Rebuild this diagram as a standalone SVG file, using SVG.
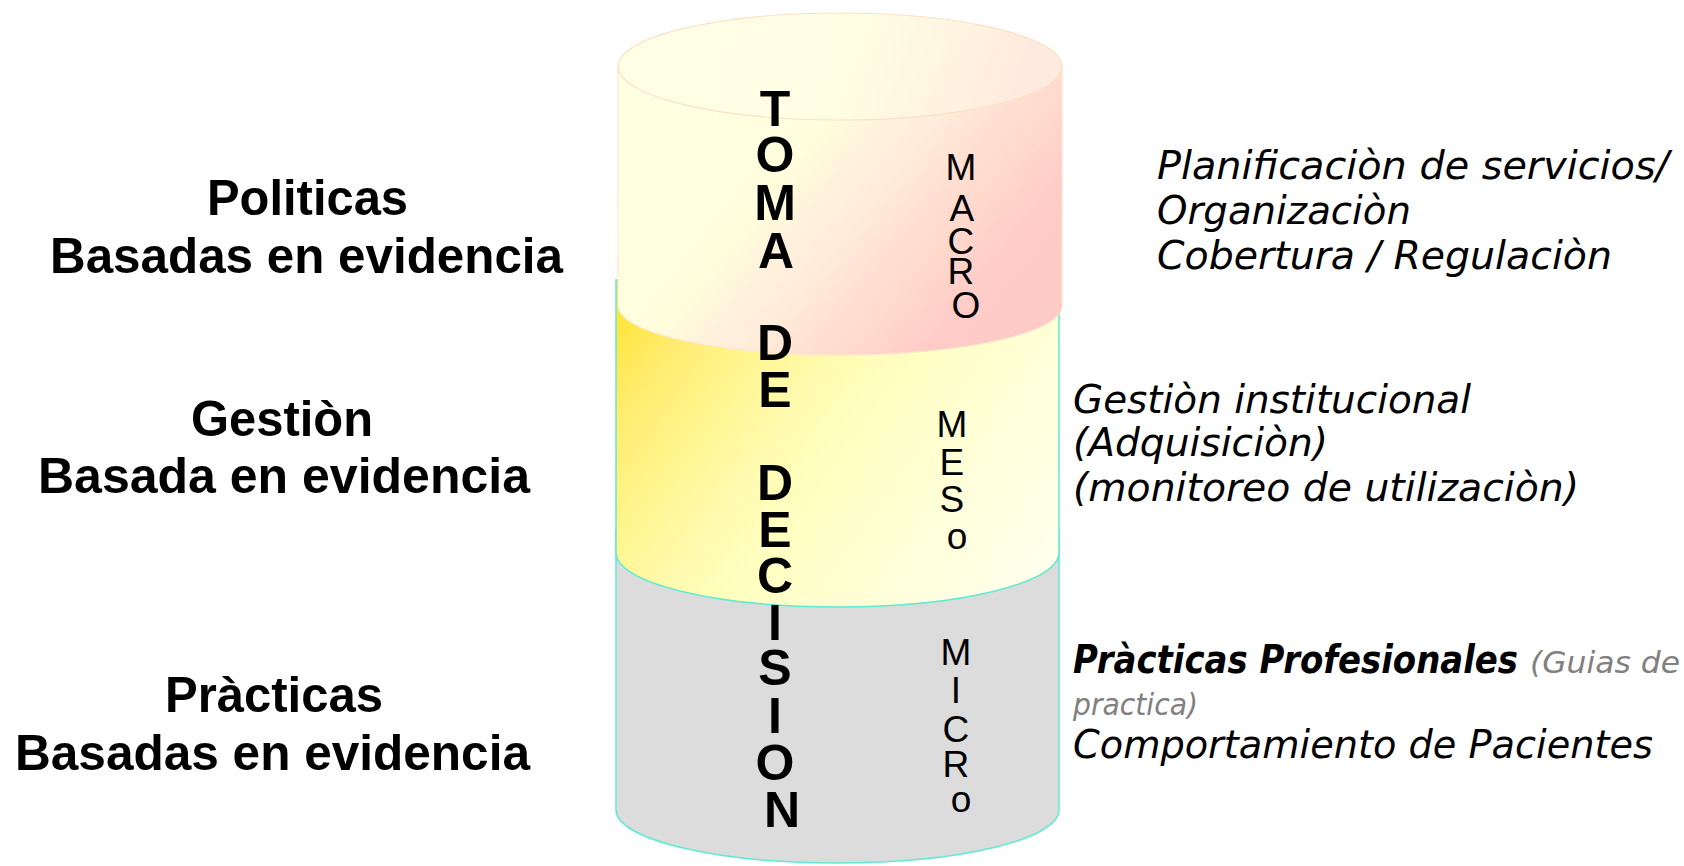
<svg xmlns="http://www.w3.org/2000/svg" width="1684" height="866" viewBox="0 0 1684 866">
  <style>
    .left { font-family: "Liberation Sans", Arial, sans-serif; font-weight: bold; font-size: 50px; fill: #000; }
    .right { font-family: "DejaVu Sans", Verdana, sans-serif; font-style: italic; font-size: 39.5px; fill: #000; }
    .rightb { font-family: "DejaVu Sans", Verdana, sans-serif; font-style: italic; font-weight: bold; font-size: 39px; fill: #000; }
    .grey { font-family: "DejaVu Sans", Verdana, sans-serif; font-style: italic; font-size: 30px; fill: #808080; }
    .vert { font-family: "Liberation Sans", Arial, sans-serif; font-weight: bold; font-size: 50px; fill: #000; text-anchor: middle; }
    .lvl { font-family: "Liberation Sans", Arial, sans-serif; font-size: 37px; fill: #000; text-anchor: middle; }
    .edge { stroke: #5FEBD2; stroke-width: 1.5; }
  </style>
  <defs>
    <linearGradient id="gTop" gradientUnits="userSpaceOnUse" x1="700" y1="90" x2="1010" y2="340">
      <stop offset="0" stop-color="#FFFFE2"/>
      <stop offset="0.3" stop-color="#FFFDDC"/>
      <stop offset="0.42" stop-color="#FFF0DC"/>
      <stop offset="0.5" stop-color="#FFEDDC"/>
      <stop offset="0.62" stop-color="#FFE0D2"/>
      <stop offset="0.75" stop-color="#FFD6CA"/>
      <stop offset="0.85" stop-color="#FFCCC8"/>
      <stop offset="1" stop-color="#FFCBC6"/>
    </linearGradient>
    <linearGradient id="gLid" gradientUnits="userSpaceOnUse" x1="700" y1="20" x2="1000" y2="130">
      <stop offset="0" stop-color="#FFFFE6"/>
      <stop offset="0.5" stop-color="#FFFDE2"/>
      <stop offset="0.8" stop-color="#FFF3E0"/>
      <stop offset="1" stop-color="#FFEADF"/>
    </linearGradient>
    <linearGradient id="gMid" gradientUnits="userSpaceOnUse" x1="620" y1="320" x2="1020" y2="600">
      <stop offset="0" stop-color="#FFE63E"/>
      <stop offset="0.12" stop-color="#FFEC70"/>
      <stop offset="0.25" stop-color="#FFF58E"/>
      <stop offset="0.4" stop-color="#FFFBB0"/>
      <stop offset="0.55" stop-color="#FFFFC4"/>
      <stop offset="0.75" stop-color="#FFFFD8"/>
      <stop offset="1" stop-color="#FFFFEC"/>
    </linearGradient>
  </defs>

  <g id="cylinder">
    <g id="segment-micro">
      <path class="edge" fill="#DCDCDC" d="M616,530 L616,810 A221.5,53 0 0 0 1059,810 L1059,530 Z"/>
    </g>
    <g id="segment-meso">
      <path class="edge" fill="url(#gMid)" d="M616,280 L616,553 A221.5,54 0 0 0 1059,553 L1059,280 Z"/>
    </g>
    <g id="segment-macro">
      <path fill="url(#gTop)" stroke="#FBE3CF" stroke-width="1" d="M618,66 L618,306 A222,49 0 0 0 1062,306 L1062,66 Z"/>
      <ellipse cx="840" cy="66.5" rx="222" ry="53.5" fill="url(#gLid)" stroke="#F8E2C4" stroke-width="1.2"/>
    </g>
  </g>

  <g id="vertical-title">
    <text class="vert">
      <tspan x="782" y="126">T</tspan>
      <tspan x="782" y="172">O</tspan>
      <tspan x="782" y="220">M</tspan>
      <tspan x="782" y="268">A</tspan>
      <tspan x="782" y="360">D</tspan>
      <tspan x="782" y="407">E</tspan>
      <tspan x="782" y="500">D</tspan>
      <tspan x="782" y="547">E</tspan>
      <tspan x="782" y="593">C</tspan>
      <tspan x="782" y="640">I</tspan>
      <tspan x="782" y="685">S</tspan>
      <tspan x="782" y="733">I</tspan>
      <tspan x="782" y="780">O</tspan>
      <tspan x="782" y="827">N</tspan>
    </text>
  </g>

  <g id="level-macro">
    <text class="lvl">
      <tspan x="966" y="180">M</tspan>
      <tspan x="966" y="221">A</tspan>
      <tspan x="966" y="254">C</tspan>
      <tspan x="966" y="284">R</tspan>
      <tspan x="966" y="318">O</tspan>
    </text>
  </g>
  <g id="level-meso">
    <text class="lvl">
      <tspan x="957" y="437">M</tspan>
      <tspan x="957" y="475">E</tspan>
      <tspan x="957" y="512">S</tspan>
      <tspan x="957" y="549">o</tspan>
    </text>
  </g>
  <g id="level-micro">
    <text class="lvl">
      <tspan x="961" y="665">M</tspan>
      <tspan x="961" y="703">I</tspan>
      <tspan x="961" y="742">C</tspan>
      <tspan x="961" y="777">R</tspan>
      <tspan x="961" y="812">o</tspan>
    </text>
  </g>

  <g id="label-politicas">
    <text class="left" x="207" y="215" textLength="201" lengthAdjust="spacingAndGlyphs">Politicas</text>
    <text class="left" x="50" y="273" textLength="513" lengthAdjust="spacingAndGlyphs">Basadas en evidencia</text>
  </g>
  <g id="label-gestion">
    <text class="left" x="191" y="436" textLength="182" lengthAdjust="spacingAndGlyphs">Gestiòn</text>
    <text class="left" x="38" y="493" textLength="492" lengthAdjust="spacingAndGlyphs">Basada en evidencia</text>
  </g>
  <g id="label-practicas">
    <text class="left" x="165" y="712" textLength="218" lengthAdjust="spacingAndGlyphs">Pràcticas</text>
    <text class="left" x="15" y="770" textLength="515" lengthAdjust="spacingAndGlyphs">Basadas en evidencia</text>
  </g>

  <g id="desc-macro">
    <text class="right" x="1157" y="179" textLength="512" lengthAdjust="spacingAndGlyphs">Planificaciòn de servicios/</text>
    <text class="right" x="1157" y="224" textLength="254" lengthAdjust="spacingAndGlyphs">Organizaciòn</text>
    <text class="right" x="1157" y="269" textLength="455" lengthAdjust="spacingAndGlyphs">Cobertura / Regulaciòn</text>
  </g>
  <g id="desc-meso">
    <text class="right" x="1073" y="413" textLength="398" lengthAdjust="spacingAndGlyphs">Gestiòn institucional</text>
    <text class="right" x="1073" y="456" textLength="255" lengthAdjust="spacingAndGlyphs">(Adquisiciòn)</text>
    <text class="right" x="1073" y="501" textLength="506" lengthAdjust="spacingAndGlyphs">(monitoreo de utilizaciòn)</text>
  </g>
  <g id="desc-micro">
    <text class="rightb" x="1073" y="673" textLength="445" lengthAdjust="spacingAndGlyphs">Pràcticas Profesionales</text>
    <text class="grey" x="1530" y="673" textLength="150" lengthAdjust="spacingAndGlyphs">(Guias de</text>
    <text class="grey" x="1073" y="715" textLength="125" lengthAdjust="spacingAndGlyphs">practica)</text>
    <text class="right" x="1073" y="758" textLength="580" lengthAdjust="spacingAndGlyphs">Comportamiento de Pacientes</text>
  </g>
</svg>
